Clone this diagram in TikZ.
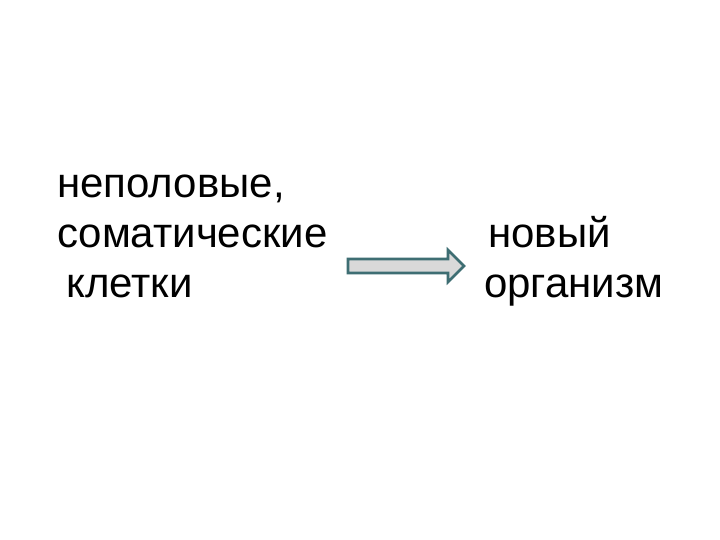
\documentclass[tikz,border=0pt]{standalone}
\usepackage{fontspec}
\setmainfont{Liberation Sans}
\definecolor{arrowline}{HTML}{3E6E73}
\definecolor{arrowfill}{HTML}{D9D9D9}
\tikzset{
  word/.style={anchor=base west, inner sep=0pt, font=\fontsize{42}{50}\selectfont},
  blockarrow/.style={draw=arrowline, fill=arrowfill, line width=2.6pt, line join=miter}
}
\begin{document}
\begin{tikzpicture}[x=1pt,y=1pt]
	\useasboundingbox[fill=white] (0,0) rectangle (720,540);
	%Nodes
	\node[word] (l1) at (57,342) {неполовые,};
	\node[word] (l2) at (57,292) {соматические};
	\node[word] (l3) at (66,242) {клетки};
	\node[word] (r1) at (488,292) {новый};
	\node[word] (r2) at (484,242) {организм};
	%Arrow
	\coordinate (a0) at (348,274);
	\coordinate (a1) at (464,274);
	\draw[blockarrow] ([yshift=7]a0) -- ([xshift=-16,yshift=7]a1) -- ([xshift=-16,yshift=16]a1) -- (a1)
		-- ([xshift=-16,yshift=-16]a1) -- ([xshift=-16,yshift=-7]a1) -- ([yshift=-7]a0) -- cycle;
\end{tikzpicture}
\end{document}
